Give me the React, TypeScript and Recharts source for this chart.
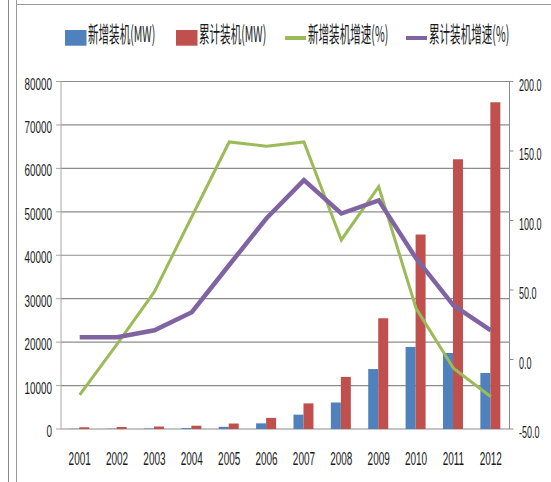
import React from 'react';
import { ComposedChart, Bar, Line, XAxis, YAxis, CartesianGrid, Legend } from 'recharts';

const years = ['2001', '2002', '2003', '2004', '2005', '2006', '2007', '2008', '2009', '2010', '2011', '2012'];
const newInstall = [60, 70, 100, 200, 500, 1300, 3300, 6100, 13800, 18900, 17500, 12900];
const cumInstall = [400, 470, 570, 760, 1260, 2560, 5900, 12000, 25500, 44800, 62100, 75200];
const newGrowth = [-25.5, 11, 48.8, 102.7, 156.5, 153.5, 156.5, 86, 124.3, 36.8, -6.3, -26.8];
const cumGrowth = [16, 16, 21, 34, 68, 101.6, 129, 105, 114.5, 72.8, 39, 21];

const leftTicks = [0, 10000, 20000, 30000, 40000, 50000, 60000, 70000, 80000];
const rightTicks = [-50, 0, 50, 100, 150, 200];
const edgeTicks = [0, 1, 2, 3, 4, 5, 6, 7, 8, 9, 10, 11, 12];

const SERIES = [
  { key: 'newInstall', name: '新增装机(MW)', color: '#4F81BD', type: 'rect' },
  { key: 'cumInstall', name: '累计装机(MW)', color: '#C0504D', type: 'rect' },
  { key: 'newGrowth', name: '新增装机增速(%)', color: '#9BBB59', type: 'line' },
  { key: 'cumGrowth', name: '累计装机增速(%)', color: '#8064A2', type: 'line' },
];
const LEGEND_X = [65, 176, 285, 406];

const data = years.map((y, i) => ({
  year: y,
  newInstall: newInstall[i],
  cumInstall: cumInstall[i],
  newGrowth: newGrowth[i],
  cumGrowth: cumGrowth[i],
}));

const FONT = '"Liberation Sans", Arial, sans-serif';
const CJK = '"Noto Sans CJK SC", "Noto Sans", sans-serif';
const TEXT_COLOR = '#1a1a1a';

// narrow, tall labels: regular font squeezed horizontally
function Squeezed({ x, y, sx, anchor, size, family, children }: any) {
  return (
    <text transform={`translate(${x},${y}) scale(${sx},1)`} textAnchor={anchor} fontSize={size}
      fontFamily={family} fill={TEXT_COLOR}>{children}</text>
  );
}

function LeftTick(props: any) {
  return <Squeezed x={props.x} y={props.y + 8} sx={0.58} anchor="end" size={17} family={FONT}>{String(props.payload.value)}</Squeezed>;
}

function RightTick(props: any) {
  const s = Number(props.payload.value).toFixed(1);
  return <Squeezed x={props.x} y={props.y + 9} sx={0.53} anchor="start" size={17} family={FONT}>{s}</Squeezed>;
}

function YearTick(props: any) {
  return <Squeezed x={props.x} y={props.y + 28.2} sx={0.57} anchor="middle" size={17.5} family={FONT}>{String(props.payload.value)}</Squeezed>;
}

function LegendBox() {
  return (
    <div style={{ height: 66.5, position: 'relative' }}>
      <svg width={551} height={50} style={{ position: 'absolute', left: 0, top: -15 }}>
        {SERIES.map((s, i) => {
          const x0 = LEGEND_X[i];
          return (
            <g key={s.key}>
              {s.type === 'rect'
                ? <rect x={x0} y={30} width={21.5} height={15.7} fill={s.color} />
                : <line x1={x0} x2={x0 + 21} y1={38} y2={38} stroke={s.color} strokeWidth={4} />}
              <Squeezed x={x0 + 23} y={41.5} sx={0.48} anchor="start" size={22} family={CJK}>{s.name}</Squeezed>
            </g>
          );
        })}
      </svg>
    </div>
  );
}

export default function App() {
  return (
    <div style={{ position: 'absolute', left: 0, top: 0, width: 551, height: 482, background: '#fff' }}>
      <div style={{ position: 'absolute', left: 8, top: 0, width: 1, height: 482, background: '#8a8a8a' }} />
      <div style={{ position: 'absolute', left: 16, top: 0, width: 1, height: 482, background: '#9a9a9a' }} />
      <div style={{ position: 'absolute', left: 16, top: 4, width: 535, height: 1, background: '#9a9a9a' }} />
      <ComposedChart
        width={551}
        height={482}
        data={data}
        margin={{ top: 15, right: 0, bottom: 0, left: 0 }}
        barGap={0}
        barCategoryGap="22%"
        style={{ position: 'absolute', left: 0, top: 0 }}
      >
        <CartesianGrid yAxisId="left" xAxisId={1} vertical={false} stroke="#8c8c8c" strokeWidth={1.2} />
        <XAxis xAxisId={0} type="number" domain={[0, 12]} ticks={edgeTicks} tick={false} height={0}
          tickSize={5} stroke="#8a8a8a" strokeWidth={1.5} allowDataOverflow />
        <XAxis xAxisId={1} dataKey="year" axisLine={false} tickLine={false} height={53} tick={<YearTick />} interval={0} />
        <YAxis yAxisId="left" width={61} domain={[0, 80000]} ticks={leftTicks} tick={<LeftTick />}
          tickSize={5} tickMargin={4} stroke="#a6a6a6" interval={0} />
        <YAxis yAxisId="right" orientation="right" width={41.5} domain={[-50, 200]} ticks={rightTicks}
          tick={<RightTick />} tickSize={4} tickMargin={5.5} stroke="#8a8a8a" interval={0} />
        <Legend verticalAlign="top" align="left" content={<LegendBox />} />
        <Bar xAxisId={1} yAxisId="left" dataKey="newInstall" name="新增装机(MW)" fill="#4F81BD" isAnimationActive={false} />
        <Bar xAxisId={1} yAxisId="left" dataKey="cumInstall" name="累计装机(MW)" fill="#C0504D" isAnimationActive={false} />
        <Line xAxisId={1} yAxisId="right" type="linear" dataKey="newGrowth" name="新增装机增速(%)" stroke="#9BBB59"
          strokeWidth={3} dot={false} isAnimationActive={false} />
        <Line xAxisId={1} yAxisId="right" type="linear" dataKey="cumGrowth" name="累计装机增速(%)" stroke="#8064A2"
          strokeWidth={4.5} dot={false} isAnimationActive={false} />
      </ComposedChart>
    </div>
  );
}
